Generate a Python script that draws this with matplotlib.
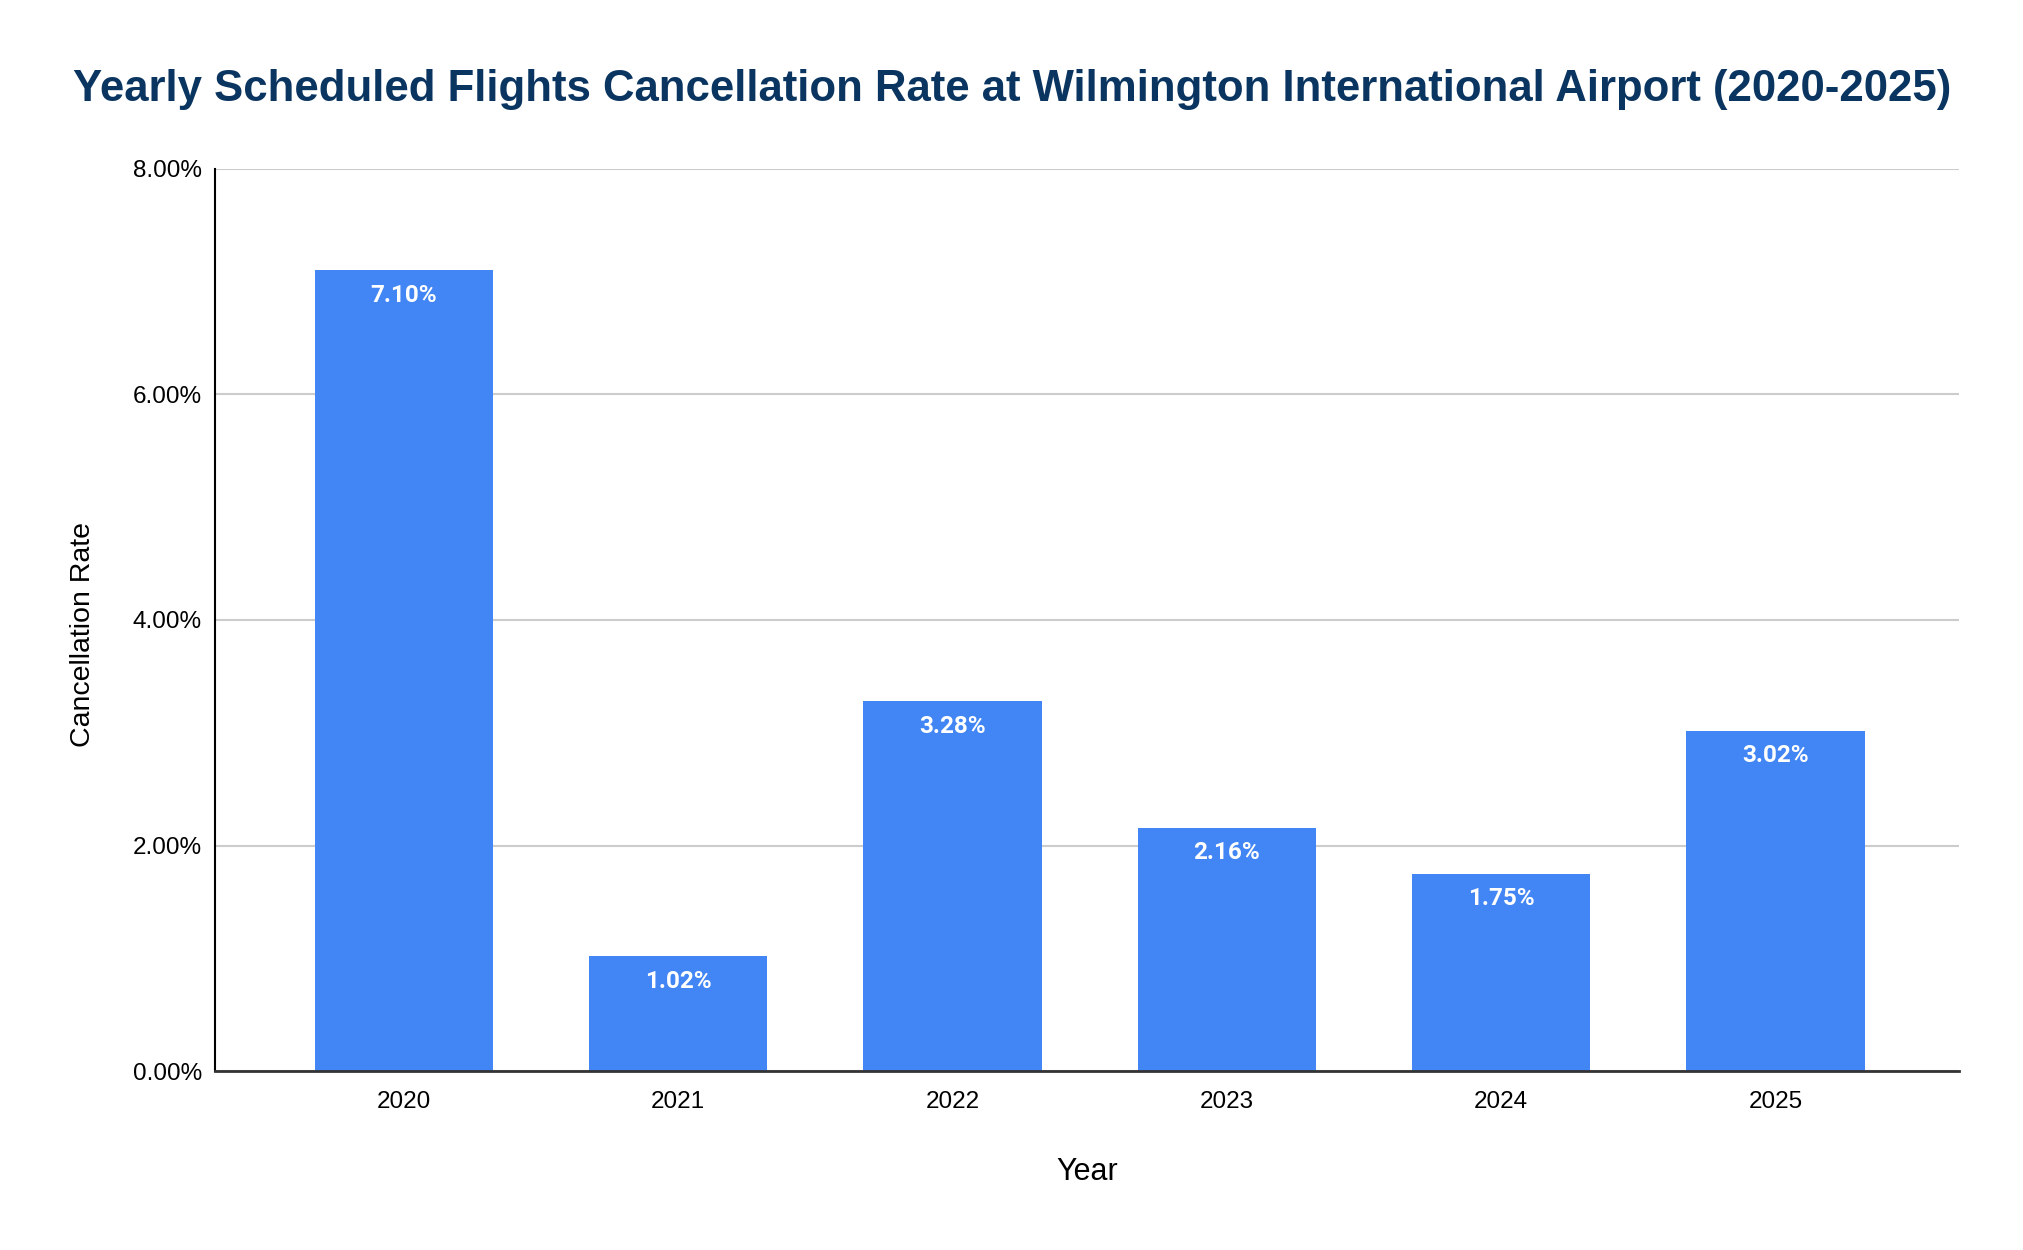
import matplotlib
matplotlib.use("Agg")
import matplotlib.pyplot as plt
from matplotlib.ticker import FuncFormatter

# Data
years = ["2020", "2021", "2022", "2023", "2024", "2025"]
rates = [7.10, 1.02, 3.28, 2.16, 1.75, 3.02]
y_ticks = [0, 2, 4, 6, 8]

BAR_COLOR = "#4285F4"
TITLE_COLOR = "#0B3561"

plt.rcParams["font.family"] = ["Liberation Sans", "DejaVu Sans"]

fig = plt.figure(figsize=(20.24, 12.5), dpi=100)
ax = fig.add_axes([0.106, 0.143, 0.862, 0.722])

x = list(range(len(years)))
bars = ax.bar(x, rates, width=0.65, color=BAR_COLOR, zorder=3)

# value labels inside the top of each bar
for xi, v in zip(x, rates):
    ax.annotate(f"{v:.2f}%", (xi, v), xytext=(0, -18), textcoords="offset points",
                ha="center", va="center", color="white", fontsize=17.5,
                fontweight="bold", family=["Roboto", "DejaVu Sans"], zorder=4)

ax.set_xlim(-0.69, 5.67)
ax.set_ylim(0, 8)
ax.set_xticks(x)
ax.set_xticklabels(years)
ax.set_yticks(y_ticks)
ax.yaxis.set_major_formatter(FuncFormatter(lambda v, p: f"{v:.2f}%"))
ax.tick_params(axis="both", length=0, labelsize=17.5)
ax.tick_params(axis="x", pad=14)
ax.tick_params(axis="y", pad=9)

ax.grid(axis="y", color="#cccccc", linewidth=1.5, zorder=0)
for s in ["top", "right"]:
    ax.spines[s].set_visible(False)
ax.spines["left"].set_color("#000000")
ax.spines["left"].set_linewidth(1.5)
ax.spines["bottom"].set_color("#333333")
ax.spines["bottom"].set_linewidth(2)
ax.spines["bottom"].set_zorder(5)

ax.set_xlabel("Year", fontsize=22, labelpad=32)
ax.set_ylabel("Cancellation Rate", fontsize=20.5)
ax.yaxis.set_label_coords(-0.068, 0.484)

fig.text(0.5, 0.928, "Yearly Scheduled Flights Cancellation Rate at Wilmington International Airport (2020-2025)",
         ha="center", va="center", fontsize=31.5, fontweight="bold", color=TITLE_COLOR)

fig.savefig("out.png", dpi=100, facecolor="white")
